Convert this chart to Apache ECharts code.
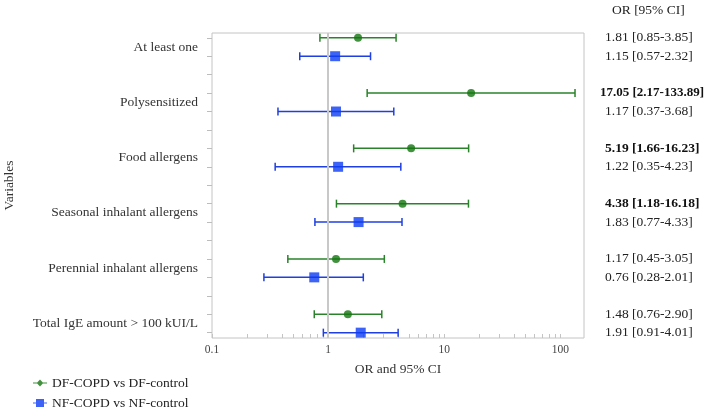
<!DOCTYPE html>
<html><head><meta charset="utf-8">
<script src="https://cdn.jsdelivr.net/npm/echarts@6/dist/echarts.min.js"></script>
<style>html,body{margin:0;padding:0;background:#fff}#c{width:709px;height:408px}</style>
</head><body><div id="c"></div>
<script>
const categories = ['At least one','Polysensitized','Food allergens','Seasonal inhalant allergens','Perennial inhalant allergens','Total IgE amount > 100 kUI/L'];
const seriesNames = ['DF-COPD vs DF-control','NF-COPD vs NF-control'];
const dfOR   = [1.81, 17.05, 5.19, 4.38, 1.17, 1.48];
const dfLow  = [0.85, 2.17, 1.66, 1.18, 0.45, 0.76];
const dfHigh = [3.85, 133.89, 16.23, 16.18, 3.05, 2.90];
const nfOR   = [1.15, 1.17, 1.22, 1.83, 0.76, 1.91];
const nfLow  = [0.57, 0.37, 0.35, 0.77, 0.28, 0.91];
const nfHigh = [2.32, 3.68, 4.23, 4.33, 2.01, 4.01];
const xTicks = [0.1, 1, 10, 100];
const xMinorTicks = [0.2,0.3,0.4,0.5,0.6,0.7,0.8,0.9,2,3,4,5,6,7,8,9,20,30,40,50,60,70,80,90];
const refValue = 1;

const GREEN = '#2a832a', GREEN_M = '#13760f';
const BLUE = '#1f3fe0', BLUE_M = '#0b3cf2';
const SERIF = '"Liberation Serif","Times New Roman",serif';

const dfRow = categories.map((c,i)=>3*i);
const nfRow = categories.map((c,i)=>3*i+1);
const allRows = []; for (let r=0;r<3*categories.length-1;r++) allRows.push(r);
const labelRows = categories.map((c,i)=>3*i+0.5);
const tableRows = [].concat(...categories.map((c,i)=>[3*i,3*i+1]));

function ciText(row){
  const i = Math.floor(row/3), df = row%3===0;
  const o = df?dfOR[i]:nfOR[i], l = df?dfLow[i]:nfLow[i], h = df?dfHigh[i]:nfHigh[i];
  const t = o.toFixed(2)+' ['+l.toFixed(2)+'-'+h.toFixed(2)+']';
  const sig = l>1 || h<1;
  if (sig) return (t.length>17?'{bw|':'{b|')+t+'}';
  return '{n|'+t+'}';
}

function errRender(params, api){
  const lo = api.coord([api.value(0), api.value(2)]);
  const hi = api.coord([api.value(1), api.value(2)]);
  const st = {stroke: api.visual('color'), lineWidth: 1.5};
  const c = 4;
  return {type:'group', children:[
    {type:'line', shape:{x1:lo[0],y1:lo[1],x2:hi[0],y2:hi[1]}, style:st},
    {type:'line', shape:{x1:lo[0],y1:lo[1]-c,x2:lo[0],y2:lo[1]+c}, style:st},
    {type:'line', shape:{x1:hi[0],y1:hi[1]-c,x2:hi[0],y2:hi[1]+c}, style:st}
  ]};
}

const legendText = {fontFamily:SERIF, fontSize:13.5, color:'#222'};
const chart = echarts.init(document.getElementById('c'));
const yMin = -0.26, yMax = 16.29;
chart.setOption({
  animation:false,
  grid:{left:212,right:125,top:33,bottom:70,show:true,borderColor:'#c4c4c4',borderWidth:1,
        containLabel:false, outerBoundsMode:'none'},
  xAxis:[{
    type:'log', logBase:10, min:0.1, max:160, position:'bottom',
    axisLine:{show:false, onZero:false}, splitLine:{show:false},
    axisTick:{show:true, inside:true, length:4, customValues:xTicks.concat(xMinorTicks), lineStyle:{color:'#c4c4c4'}},
    axisLabel:{customValues:xTicks, formatter:v=>String(v), color:'#444', fontFamily:SERIF, fontSize:11.5, margin:6},
    name:'OR and 95% CI', nameLocation:'middle', nameGap:24,
    nameTextStyle:{fontFamily:SERIF, fontSize:13.5, color:'#333'}
  }],
  yAxis:[{
    type:'value', inverse:true, min:yMin, max:yMax, position:'left',
    axisLine:{show:false, onZero:false}, splitLine:{show:false},
    axisTick:{show:true, length:5, customValues:allRows, lineStyle:{color:'#bdbdbd'}},
    axisLabel:{customValues:labelRows, formatter:v=>categories[Math.round((v-0.5)/3)],
      fontFamily:SERIF, fontSize:13.5, color:'#333', margin:14},
    name:'Variables', nameLocation:'middle', nameRotate:90, nameGap:196,
    nameTextStyle:{fontFamily:SERIF, fontSize:13.5, color:'#333'}
  },{
    type:'value', inverse:true, min:yMin, max:yMax, position:'right',
    axisLine:{show:false, onZero:false}, splitLine:{show:false}, axisTick:{show:false},
    axisLabel:{customValues:tableRows, formatter:v=>ciText(Math.round(v)), margin:16,
      rich:{
        n:{fontFamily:SERIF, fontSize:13.5, color:'#222', padding:[0,0,0,5]},
        b:{fontFamily:SERIF, fontSize:13.5, color:'#111', fontWeight:'bold', padding:[0,0,0,5]},
        bw:{fontFamily:SERIF, fontSize:13, color:'#111', fontWeight:'bold'}
      }}
  }],
  legend:[{
    orient:'vertical', left:28, top:371, itemWidth:14, itemHeight:8,
    textStyle:legendText,
    data:[{name:seriesNames[0], icon:'path://M0,3.5H4.2L7,0.5 9.8,3.5H14V4.5H9.8L7,7.5 4.2,4.5H0Z'}]
  },{
    orient:'vertical', left:28, top:391, itemWidth:14, itemHeight:8,
    textStyle:legendText,
    data:[{name:seriesNames[1], icon:'path://M0,3.5H3V0H11V3.5H14V4.5H11V8H3V4.5H0Z'}]
  }],
  graphic:[{type:'text', left:612, top:3, style:{text:'OR [95% CI]', font:'13.5px '+SERIF, fill:'#222'}}],
  series:[
    {type:'custom', name:'DF CI', renderItem:errRender, xAxisIndex:0, yAxisIndex:0,
     itemStyle:{color:GREEN}, encode:{x:[0,1], y:2}, silent:true,
     data:categories.map((c,i)=>[dfLow[i], dfHigh[i], dfRow[i]]),
     markLine:{silent:true, symbol:'none', label:{show:false}, lineStyle:{color:'#c8c8c8', width:2, type:'solid'},
       data:[{xAxis:refValue}]}},
    {type:'custom', name:'NF CI', renderItem:errRender, xAxisIndex:0, yAxisIndex:0,
     itemStyle:{color:BLUE}, encode:{x:[0,1], y:2}, silent:true,
     data:categories.map((c,i)=>[nfLow[i], nfHigh[i], nfRow[i]])},
    {type:'scatter', name:seriesNames[0], xAxisIndex:0, yAxisIndex:0, symbol:'circle', symbolSize:8,
     itemStyle:{color:GREEN_M}, z:5, data:categories.map((c,i)=>[dfOR[i], dfRow[i]])},
    {type:'scatter', name:seriesNames[1], xAxisIndex:0, yAxisIndex:0, symbol:'rect', symbolSize:10,
     itemStyle:{color:BLUE_M}, z:5, data:categories.map((c,i)=>[nfOR[i], nfRow[i]])}
  ]
});
</script></body></html>
